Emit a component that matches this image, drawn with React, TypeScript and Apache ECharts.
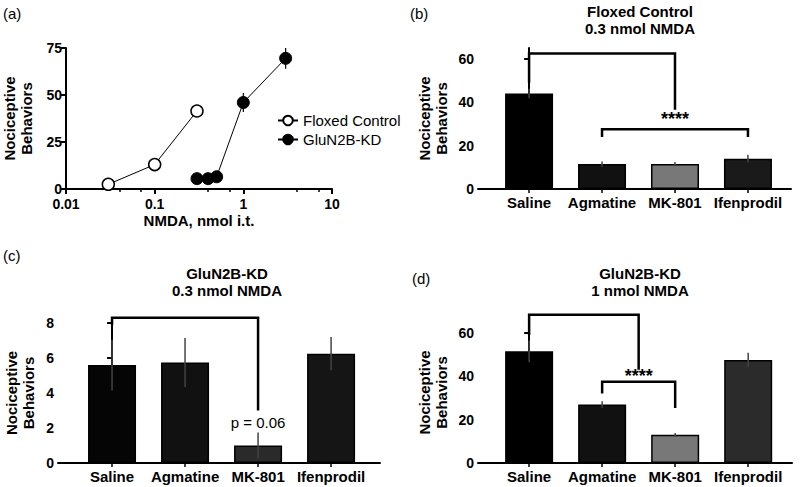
import React, { useEffect, useRef } from "react";
import * as echarts from "echarts";

const FONT = "'Liberation Sans', Arial, sans-serif";

// Panel (a)
const floxedDose = [0.03, 0.1, 0.3];
const floxedVal = [2.5, 13, 41.5];
const floxedErr = [1, 1.5, 2];
const kdDose = [0.3, 0.4, 0.5, 1, 3];
const kdVal = [5.5, 5.5, 6.5, 46, 69.5];
const kdErr = [1, 1, 1, 5, 5.5];

// Bar panels
const categories = ["Saline", "Agmatine", "MK-801", "Ifenprodil"];
const bMeans = [44, 11.5, 11.5, 14];
const bErr = [2.2, 1.2, 1, 1.8];
const bColors = ["#000000", "#111111", "#787878", "#1a1a1a"];
const cMeans = [5.6, 5.75, 1.0, 6.25];
const cErr = [1.45, 1.4, 0.75, 0.95];
const cColors = ["#050505", "#111111", "#2a2a2a", "#151515"];
const dMeans = [51.5, 27, 13, 47.5];
const dErr = [5, 1.5, 0.8, 3.3];
const dColors = ["#000000", "#111111", "#787878", "#2b2b2b"];

// Brackets: [x1, x2, top, leftEnd, rightEnd]
const bBrackets = [
  [0, 2, 62.5, 49, 36.5],
  [1, 3, 27.5, 24, 24],
];
const cBrackets = [[0, 2, 8.3, 7.9, 3.0]];
const dBrackets = [
  [0, 1.5, 68.3, 59, 43],
  [1, 2, 37.4, 32, 25.4],
];
// Annotations: [x, y], text
const bNotes = [[2, 32.2]];
const bNoteText = ["****"];
const cNotes = [[2, 2.29]];
const cNoteText = ["p = 0.06"];
const dNotes = [[1.5, 40.3]];
const dNoteText = ["****"];

const yName = "Nociceptive\nBehaviors";

export default function App() {
  const ref = useRef<HTMLDivElement>(null);
  useEffect(() => {
    document.body.style.margin = "0";
    const chart = echarts.init(ref.current!, null, { renderer: "svg" });

    const axisLineStyle = { color: "#000", width: 2 };
    const tickLabel = { color: "#000", fontSize: 14, fontWeight: "bold" as const, fontFamily: FONT };
    const nameStyle = { color: "#000", fontSize: 15, fontWeight: "bold" as const, fontFamily: FONT, lineHeight: 17 };

    const barGrids = [
      { left: 478, top: 48, width: 313, height: 141 },
      { left: 58, top: 323, width: 322, height: 140 },
      { left: 478, top: 322, width: 314, height: 141 },
    ];
    const xMins = [-0.7, -0.74, -0.7];
    const xMaxs = [3.59, 3.67, 3.6];

    const yMaxs = [65, 8, 65];
    const yTicks = [[0, 20, 40, 60], [0, 2, 4, 6, 8], [0, 20, 40, 60]];

    const grids: any[] = [{ left: 60, top: 48, width: 272, height: 141 }, ...barGrids];

    const xAxes: any[] = [
      {
        type: "log",
        gridIndex: 0,
        logBase: 10,
        min: 0.01,
        max: 10,
        axisLine: { lineStyle: axisLineStyle },
        axisTick: { length: 5, lineStyle: { width: 2, color: "#000" } },
        minorTick: { show: true, splitNumber: 3, length: 3, lineStyle: { width: 1.5, color: "#000" } },
        axisLabel: { ...tickLabel, margin: 8 },
        splitLine: { show: false },
        name: "NMDA, nmol i.t.",
        nameLocation: "middle",
        nameGap: 22,
        nameTextStyle: nameStyle,
      },
    ];
    const yAxes: any[] = [
      {
        type: "value",
        gridIndex: 0,
        min: 0,
        max: 75,
        interval: 25,
        axisLine: { show: true, lineStyle: axisLineStyle },
        axisTick: { show: true, length: 5, lineStyle: { width: 2, color: "#000" } },
        axisLabel: { ...tickLabel, margin: 4 },
        splitLine: { show: false },
        name: yName,
        nameLocation: "middle",
        nameGap: 31,
        nameRotate: 90,
        nameTextStyle: nameStyle,
      },
    ];

    for (let i = 0; i < 3; i++) {
      xAxes.push({
        type: "value",
        gridIndex: i + 1,
        min: xMins[i],
        max: xMaxs[i],
        axisLine: { lineStyle: axisLineStyle },
        axisTick: { show: true, customValues: [0, 1, 2, 3], length: 4, lineStyle: { width: 1.5, color: "#000" } },
        axisLabel: {
          customValues: [0, 1, 2, 3],
          formatter: (v: number) => categories[Math.round(v)] ?? "",
          color: "#000",
          fontSize: 15,
          fontWeight: "bold",
          fontFamily: FONT,
          margin: 6,
        },
        splitLine: { show: false },
      });
      yAxes.push({
        type: "value",
        gridIndex: i + 1,
        min: 0,
        max: yMaxs[i],
        axisLine: { show: true, lineStyle: axisLineStyle },
        axisTick: { show: true, customValues: yTicks[i], length: 5, lineStyle: { width: 2, color: "#000" } },
        axisLabel: { ...tickLabel, customValues: yTicks[i], margin: 4 },
        splitLine: { show: false },
        name: yName,
        nameLocation: "middle",
        nameGap: i === 1 ? 21 : 28,
        nameRotate: 90,
        nameTextStyle: nameStyle,
      });
    }

    const errRender = (color: string, width: number) => (params: any, api: any) => {
      const x = api.value(0);
      const m = api.value(1);
      const e = api.value(2);
      const p1 = api.coord([x, m - e]);
      const p2 = api.coord([x, m + e]);
      return {
        type: "line",
        shape: { x1: p1[0], y1: p1[1], x2: p2[0], y2: p2[1] },
        style: { stroke: color, lineWidth: width },
      };
    };
    const bracketRender = (params: any, api: any) => {
      const x1 = api.value(0), x2 = api.value(1), top = api.value(2), l = api.value(3), r = api.value(4);
      const pts = [api.coord([x1, l]), api.coord([x1, top]), api.coord([x2, top]), api.coord([x2, r])];
      return {
        type: "polyline",
        shape: { points: pts },
        style: { stroke: "#000", lineWidth: 2.5, fill: null },
      };
    };
    const noteRender = (texts: string[], bold: boolean, size: number) => (params: any, api: any) => {
      const p = api.coord([api.value(0), api.value(1)]);
      return {
        type: "text",
        x: p[0],
        y: p[1],
        style: {
          text: texts[params.dataIndex],
          align: "center",
          verticalAlign: "middle",
          fontSize: size,
          fontWeight: bold ? "bold" : "normal",
          fontFamily: FONT,
          fill: "#000",
        },
      };
    };

    const series: any[] = [
      {
        type: "custom",
        name: "errF",
        xAxisIndex: 0,
        yAxisIndex: 0,
        data: floxedDose.map((d, i) => [d, floxedVal[i], floxedErr[i]]),
        encode: { x: 0, y: 1 },
        renderItem: errRender("#000", 1.2),
        z: 1,
        silent: true,
      },
      {
        type: "custom",
        name: "errK",
        xAxisIndex: 0,
        yAxisIndex: 0,
        data: kdDose.map((d, i) => [d, kdVal[i], kdErr[i]]),
        encode: { x: 0, y: 1 },
        renderItem: errRender("#000", 1.2),
        z: 1,
        silent: true,
      },
      {
        type: "line",
        name: "Floxed Control",
        xAxisIndex: 0,
        yAxisIndex: 0,
        data: floxedDose.map((d, i) => [d, floxedVal[i]]),
        symbol: "circle",
        symbolSize: 12,
        lineStyle: { color: "#000", width: 1 },
        itemStyle: { color: "#fff", borderColor: "#000", borderWidth: 1.5 },
        z: 3,
      },
      {
        type: "line",
        name: "GluN2B-KD",
        xAxisIndex: 0,
        yAxisIndex: 0,
        data: kdDose.map((d, i) => [d, kdVal[i]]),
        symbol: "circle",
        symbolSize: 12,
        lineStyle: { color: "#000", width: 1 },
        itemStyle: { color: "#000", borderColor: "#000", borderWidth: 1 },
        z: 3,
      },
    ];

    const panels = [
      { means: bMeans, err: bErr, colors: bColors, brackets: bBrackets, notes: bNotes, noteText: bNoteText, bold: true, size: 18 },
      { means: cMeans, err: cErr, colors: cColors, brackets: cBrackets, notes: cNotes, noteText: cNoteText, bold: false, size: 15 },
      { means: dMeans, err: dErr, colors: dColors, brackets: dBrackets, notes: dNotes, noteText: dNoteText, bold: true, size: 18 },
    ];
    panels.forEach((p, i) => {
      const ax = i + 1;
      series.push({
        type: "bar",
        xAxisIndex: ax,
        yAxisIndex: ax,
        barWidth: 48,
        data: p.means.map((m, k) => ({
          value: [k, m],
          itemStyle: { color: p.colors[k], borderColor: "#000", borderWidth: 1.5 },
        })),
        z: 2,
        silent: true,
      });
      series.push({
        type: "custom",
        xAxisIndex: ax,
        yAxisIndex: ax,
        data: p.means.map((m, k) => [k, m, p.err[k]]),
        encode: { x: 0, y: 1 },
        renderItem: errRender("#444", 1.5),
        z: 3,
        silent: true,
      });
      series.push({
        type: "custom",
        xAxisIndex: ax,
        yAxisIndex: ax,
        data: p.brackets,
        encode: { x: [0, 1], y: [2, 3, 4] },
        renderItem: bracketRender,
        z: 4,
        silent: true,
      });
      series.push({
        type: "custom",
        xAxisIndex: ax,
        yAxisIndex: ax,
        data: p.notes,
        encode: { x: 0, y: 1 },
        renderItem: noteRender(p.noteText, p.bold, p.size),
        z: 5,
        silent: true,
      });
    });

    const titleStyle = { fontSize: 15, fontWeight: "bold", fontFamily: FONT, fill: "#000", align: "center", verticalAlign: "middle", lineHeight: 17 };
    const letterStyle = { fontSize: 15, fontFamily: FONT, fill: "#000", align: "left", verticalAlign: "middle" };

    chart.setOption({
      animation: false,
      backgroundColor: "#fff",
      textStyle: { fontFamily: FONT },
      grid: grids,
      xAxis: xAxes,
      yAxis: yAxes,
      legend: {
        data: ["Floxed Control", "GluN2B-KD"],
        orient: "vertical",
        left: 272,
        top: 108,
        itemWidth: 20,
        itemHeight: 12,
        itemGap: 4,
        textStyle: { fontSize: 15, color: "#000", fontFamily: FONT },
        selectedMode: false,
      },
      graphic: [
        { type: "text", x: 3, y: 13, style: { ...letterStyle, text: "(a)" } },
        { type: "text", x: 410, y: 13, style: { ...letterStyle, text: "(b)" } },
        { type: "text", x: 3, y: 255, style: { ...letterStyle, text: "(c)" } },
        { type: "text", x: 412, y: 278, style: { ...letterStyle, text: "(d)" } },
        { type: "text", x: 640, y: 19.5, style: { ...titleStyle, text: "Floxed Control\n0.3 nmol NMDA" } },
        { type: "text", x: 227, y: 282, style: { ...titleStyle, text: "GluN2B-KD\n0.3 nmol NMDA" } },
        { type: "text", x: 640, y: 282, style: { ...titleStyle, text: "GluN2B-KD\n1 nmol NMDA" } },
      ],
      series,
    });
    return () => chart.dispose();
  }, []);
  return <div ref={ref} style={{ width: 800, height: 487 }} />;
}
